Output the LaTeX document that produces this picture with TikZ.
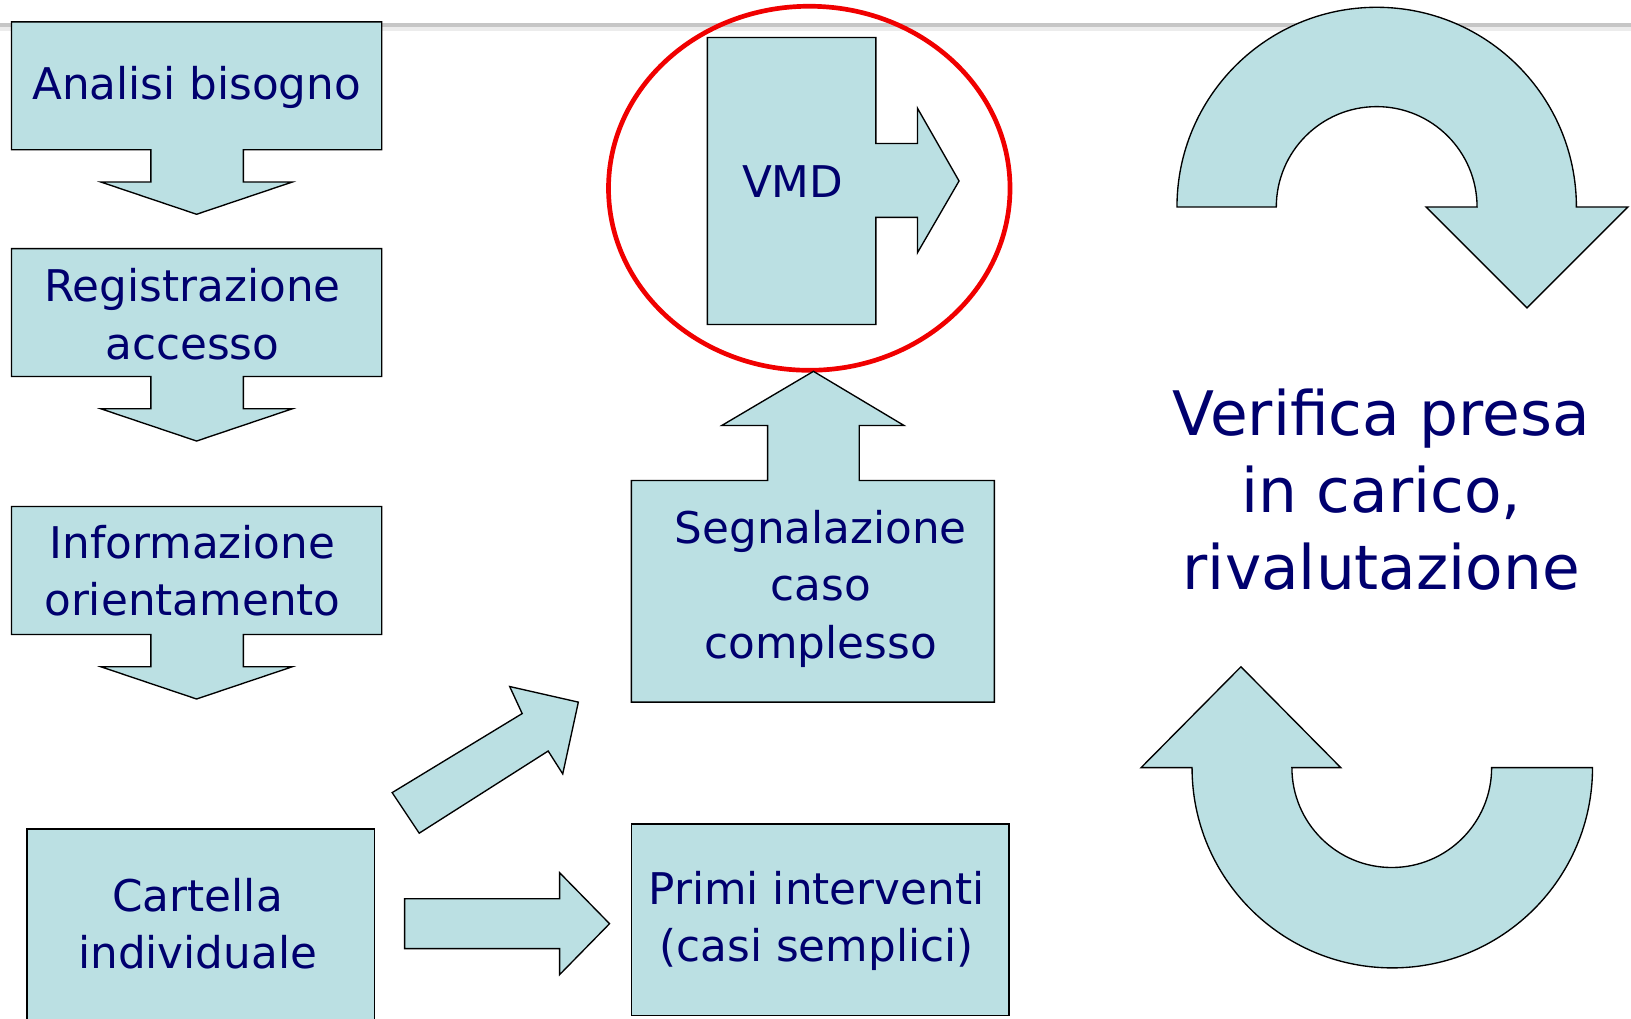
\documentclass[tikz,border=0pt]{standalone}
\usepackage{fontspec}
\setmainfont{DejaVu Sans}
\definecolor{boxfill}{RGB}{187,224,227}
\definecolor{navy}{RGB}{0,0,110}
\definecolor{ringred}{RGB}{240,0,0}
\begin{document}
\begin{tikzpicture}[x=1pt,y=-1pt,
  shapeline/.style={draw=black,line width=1.3pt,fill=boxfill,line join=miter},
  lbl/.style={text=navy,align=center,inner sep=0pt,font=\fontsize{42}{55}\selectfont},
  biglbl/.style={text=navy,align=center,inner sep=0pt,font=\fontsize{59}{74}\selectfont}]
\useasboundingbox (0,0) rectangle (1568,979);
% top grey rule
\fill[gray!15] (0,26) rectangle (1568,30);
\fill[gray!45] (0,22.5) rectangle (1568,26);
% left column callouts
\foreach \dy in {0,218,466}{
\path[shapeline] (11,21+\dy) -- (367,21+\dy) -- (367,144+\dy) -- (234,144+\dy) -- (234,175+\dy) -- (281,175+\dy) -- (189,206+\dy) -- (97,175+\dy) -- (145,175+\dy) -- (145,144+\dy) -- (11,144+\dy) -- cycle;
}
\node[lbl] (analisi) at (189,84) {Analisi bisogno};
\node[lbl] (registr) at (185,302) {Registrazione\\accesso};
\node[lbl] (inform) at (185,549) {Informazione\\orientamento};
% Cartella
\path[shapeline] (26,797) rectangle (360,995);
\node[lbl] (cartella) at (190,888) {Cartella\\individuale};
% VMD callout
\path[shapeline] (680,36) -- (842,36) -- (842,138) -- (882,138) -- (882,104) -- (922,174) -- (882,243) -- (882,209) -- (842,209) -- (842,312) -- (680,312) -- cycle;
\node[lbl] (vmd) at (762,175) {VMD};
\draw[ringred,line width=4.5pt] (778,181) ellipse [x radius=193,y radius=175];
% Segnalazione callout
\path[shapeline] (607,675) -- (607,462) -- (738,462) -- (738,409) -- (694,409) -- (782,357) -- (869,409) -- (826,409) -- (826,462) -- (956,462) -- (956,675) -- cycle;
\node[lbl] (segn) at (789,566) {Segnalazione\\caso\\complesso};
% diagonal arrow
\path[shapeline] (377,762) -- (502,686) -- (490,660) -- (556,675) -- (541,744) -- (527,722) -- (403,801) -- cycle;
% horizontal arrow
\path[shapeline] (389,864) -- (538,864) -- (538,839) -- (586,888) -- (538,937) -- (538,912) -- (389,912) -- cycle;
% Primi interventi
\path[shapeline] (607,792) rectangle (970,976);
\node[lbl] (primi) at (785,885) {Primi interventi\\(casi semplici)};
% curved arrows
\path[shapeline] (1131.5,199) arc[start angle=180,end angle=360,radius=192] -- (1565,199) -- (1468,296) -- (1371,199) -- (1420,199) arc[start angle=0,end angle=-180,radius=96.5] -- cycle;
\path[shapeline] (1531,738) arc[start angle=0,end angle=180,radius=192.5] -- (1097,738) -- (1193,641) -- (1289,738) -- (1242,738) arc[start angle=180,end angle=0,radius=96] -- cycle;
\node[biglbl] (verifica) at (1328,471) {Verifica presa\\in carico,\\rivalutazione};
\end{tikzpicture}
\end{document}
